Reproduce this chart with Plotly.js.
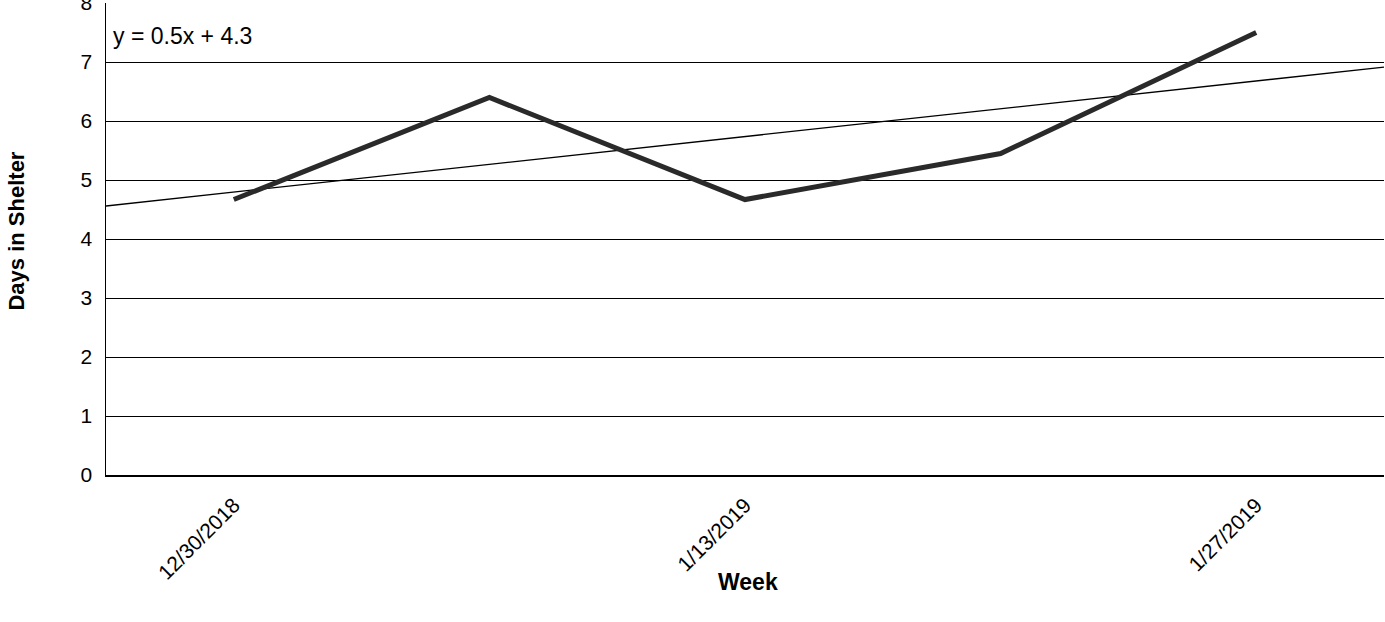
<!DOCTYPE html>
<html>
<head>
<meta charset="utf-8">
<script src="https://cdn.plot.ly/plotly-3.0.1.min.js"></script>
<style>html,body{margin:0;padding:0;background:#fff;}#chart{width:1385px;height:622px;}</style>
</head>
<body>
<div id="chart"></div>
<script>
var weeks = ["12/30/2018", "1/6/2019", "1/13/2019", "1/20/2019", "1/27/2019"];
var daysInShelter = [4.67, 6.4, 4.67, 5.45, 7.5];
var shownTickLabels = ["12/30/2018", "1/13/2019", "1/27/2019"];
var yTicks = [0, 1, 2, 3, 4, 5, 6, 7, 8];
var equationLabel = "y = 0.5x + 4.3";

var idx = weeks.map(function (_, i) { return i; });
var tickIdx = shownTickLabels.map(function (t) { return weeks.indexOf(t); });

// least-squares trendline (Excel uses x = 1..n)
var n = daysInShelter.length;
var xs = idx.map(function (i) { return i + 1; });
var mx = xs.reduce(function (a, b) { return a + b; }, 0) / n;
var my = daysInShelter.reduce(function (a, b) { return a + b; }, 0) / n;
var sxy = 0, sxx = 0;
for (var i = 0; i < n; i++) { sxy += (xs[i] - mx) * (daysInShelter[i] - my); sxx += (xs[i] - mx) * (xs[i] - mx); }
var slope = sxy / sxx, intercept = my - slope * mx;
var xRange = [-0.5, n - 0.5];
var trendX = xRange;
var trendY = xRange.map(function (x) { return intercept + slope * (x + 1); });

var font = "Liberation Sans, Arial, sans-serif";

var data = [
  { x: trendX, y: trendY, type: "scatter", mode: "lines", line: { color: "#000", width: 1.3 }, hoverinfo: "skip", showlegend: false },
  { x: idx, y: daysInShelter, type: "scatter", mode: "lines", line: { color: "#2a2a2a", width: 5 }, showlegend: false }
];

var layout = {
  width: 1385, height: 622,
  margin: { l: 106, r: 1, t: 3, b: 147 },
  paper_bgcolor: "#fff", plot_bgcolor: "#fff",
  font: { family: font, color: "#000", size: 21 },
  showlegend: false,
  xaxis: {
    range: xRange, tickmode: "array", tickvals: tickIdx, ticktext: shownTickLabels,
    tickangle: -45, showgrid: false, zeroline: false,
    showline: true, linecolor: "#000", linewidth: 1.5,
    ticks: "", ticklabelstandoff: 8, tickfont: { size: 21, family: font, color: "#000" }
  },
  yaxis: {
    range: [0, 8.002], tickmode: "array", tickvals: yTicks, ticklabeloverflow: "allow",
    showgrid: true, gridcolor: "#000", gridwidth: 1,
    zeroline: false, showline: true, linecolor: "#000", linewidth: 1.5,
    ticks: "", ticklen: 0, ticklabelstandoff: 8, tickfont: { size: 21, family: font, color: "#000" }
  },
  annotations: [
    { text: equationLabel, xref: "paper", yref: "paper", x: 0.004, y: 0.93, xanchor: "left", yanchor: "middle", showarrow: false, font: { size: 23, family: font, color: "#000" } },
    { text: "<b>Days in Shelter</b>", xref: "paper", yref: "paper", x: -0.07, y: 0.517, xanchor: "center", yanchor: "middle", textangle: -90, showarrow: false, font: { size: 22, family: font, color: "#000" } },
    { text: "<b>Week</b>", xref: "paper", yref: "paper", x: 0.502, y: -0.227, xanchor: "center", yanchor: "middle", showarrow: false, font: { size: 23, family: font, color: "#000" } }
  ]
};

Plotly.newPlot("chart", data, layout, { staticPlot: true, displayModeBar: false });
</script>
</body>
</html>
